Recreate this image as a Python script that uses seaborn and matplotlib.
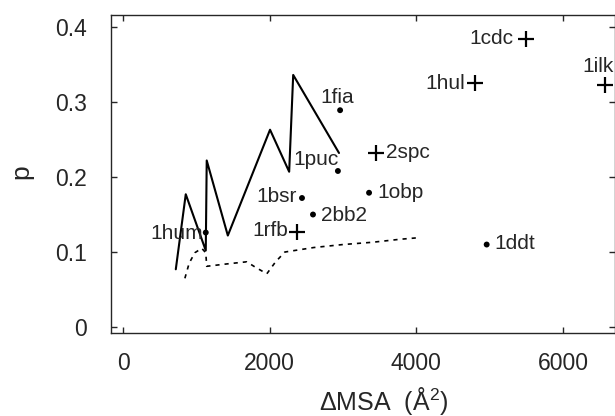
import numpy as np
import pandas as pd
import seaborn as sns
import matplotlib
matplotlib.use('Agg')
import matplotlib.pyplot as plt

# tocke (ΔMSA, p) - dvije vrste markera
dot_names = ['1fia', '1puc', '1bsr', '2bb2', '1hum', '1obp', '1ddt']
dot_x = [2960, 2930, 2440, 2590, 1127, 3355, 4960]
dot_p = [0.289, 0.208, 0.172, 0.150, 0.126, 0.179, 0.110]

plus_names = ['1rfb', '2spc', '1cdc', '1hul', '1ilk']
plus_x = [2370, 3450, 5500, 4800, 6580]
plus_p = [0.127, 0.232, 0.384, 0.325, 0.323]

# puna linija (cik-cak)
solid_x = [718, 854, 1127, 1140, 1428, 2004, 2265, 2320, 2945]
solid_p = [0.077, 0.177, 0.102, 0.222, 0.122, 0.263, 0.207, 0.336, 0.232]

# isprekidana linija
dash_x = [842, 900, 977, 1072, 1127, 1140, 1400, 1687, 1800, 1960, 2080, 2206,
          2600, 3000, 3400, 3777, 4020]
dash_p = [0.065, 0.085, 0.099, 0.105, 0.099, 0.081, 0.084, 0.087, 0.080, 0.071,
          0.087, 0.100, 0.106, 0.110, 0.113, 0.117, 0.119]

# pomaci oznaka u pikselima (dx, dy, ha)
label_pos = {
    '1fia': (-3, 13, 'center'), '1puc': (1, 11, 'right'), '1bsr': (-5, 2, 'right'),
    '2bb2': (8, -1, 'left'), '1hum': (-3, -1, 'right'), '1obp': (8, 0, 'left'),
    '1ddt': (8, 1, 'left'), '1rfb': (-9, 1, 'right'), '2spc': (10, 0, 'left'),
    '1cdc': (-13, 0, 'right'), '1hul': (-10, 0, 'right'), '1ilk': (-23, 18, 'left'),
}

sns.set_style('ticks')
plt.rcParams['font.family'] = ['Liberation Sans', 'DejaVu Sans']
plt.rcParams['mathtext.fontset'] = 'custom'
plt.rcParams['mathtext.rm'] = 'Liberation Sans'
plt.rcParams['mathtext.it'] = 'Liberation Sans'

fig = plt.figure(figsize=(6.15, 4.16), dpi=100)
ax = fig.add_axes([0.1805, 0.1995, 0.8195, 0.7645])

df_solid = pd.DataFrame({'x': solid_x, 'p': solid_p})
df_dash = pd.DataFrame({'x': dash_x, 'p': dash_p})
sns.lineplot(data=df_solid, x='x', y='p', sort=False, color='black', lw=1.5, ax=ax)
sns.lineplot(data=df_dash, x='x', y='p', sort=False, color='black', lw=1.2,
             linestyle=(0, (2.5, 3)), ax=ax)

df_dot = pd.DataFrame({'x': dot_x, 'p': dot_p, 'name': dot_names})
df_plus = pd.DataFrame({'x': plus_x, 'p': plus_p, 'name': plus_names})
sns.scatterplot(data=df_dot, x='x', y='p', color='black', s=18, edgecolor='none', ax=ax)
sns.scatterplot(data=df_plus, x='x', y='p', color='black', marker='+', s=120,
                linewidth=1.6, ax=ax)

for d in [df_dot, df_plus]:
    for _, r in d.iterrows():
        dx, dy, ha = label_pos[r['name']]
        ax.annotate(r['name'], (r['x'], r['p']), xytext=(dx, dy),
                    textcoords='offset pixels', ha=ha, va='center', fontsize=15)

ax.set_xlim(-166, 6711)
ax.set_ylim(-0.0079, 0.4159)
ax.set_xticks([0, 2000, 4000, 6000])
ax.set_yticks([0, 0.1, 0.2, 0.3, 0.4])
ax.set_yticklabels(['0', '0.1', '0.2', '0.3', '0.4'])
ax.tick_params(direction='in', length=4, width=1, top=True, right=True, labelsize=16.5)
ax.tick_params(axis='x', pad=13.5)
ax.tick_params(axis='y', pad=17.5)
for s in ax.spines.values():
    s.set_linewidth(1.0)
    s.set_visible(True)
ax.set_xlabel('ΔMSA  (Å$^2$)', fontsize=18)
ax.xaxis.set_label_coords(0.54, -0.165)
ax.set_ylabel('p', fontsize=19)
ax.yaxis.set_label_coords(-0.155, 0.506)

fig.savefig('out.png', dpi=100)
